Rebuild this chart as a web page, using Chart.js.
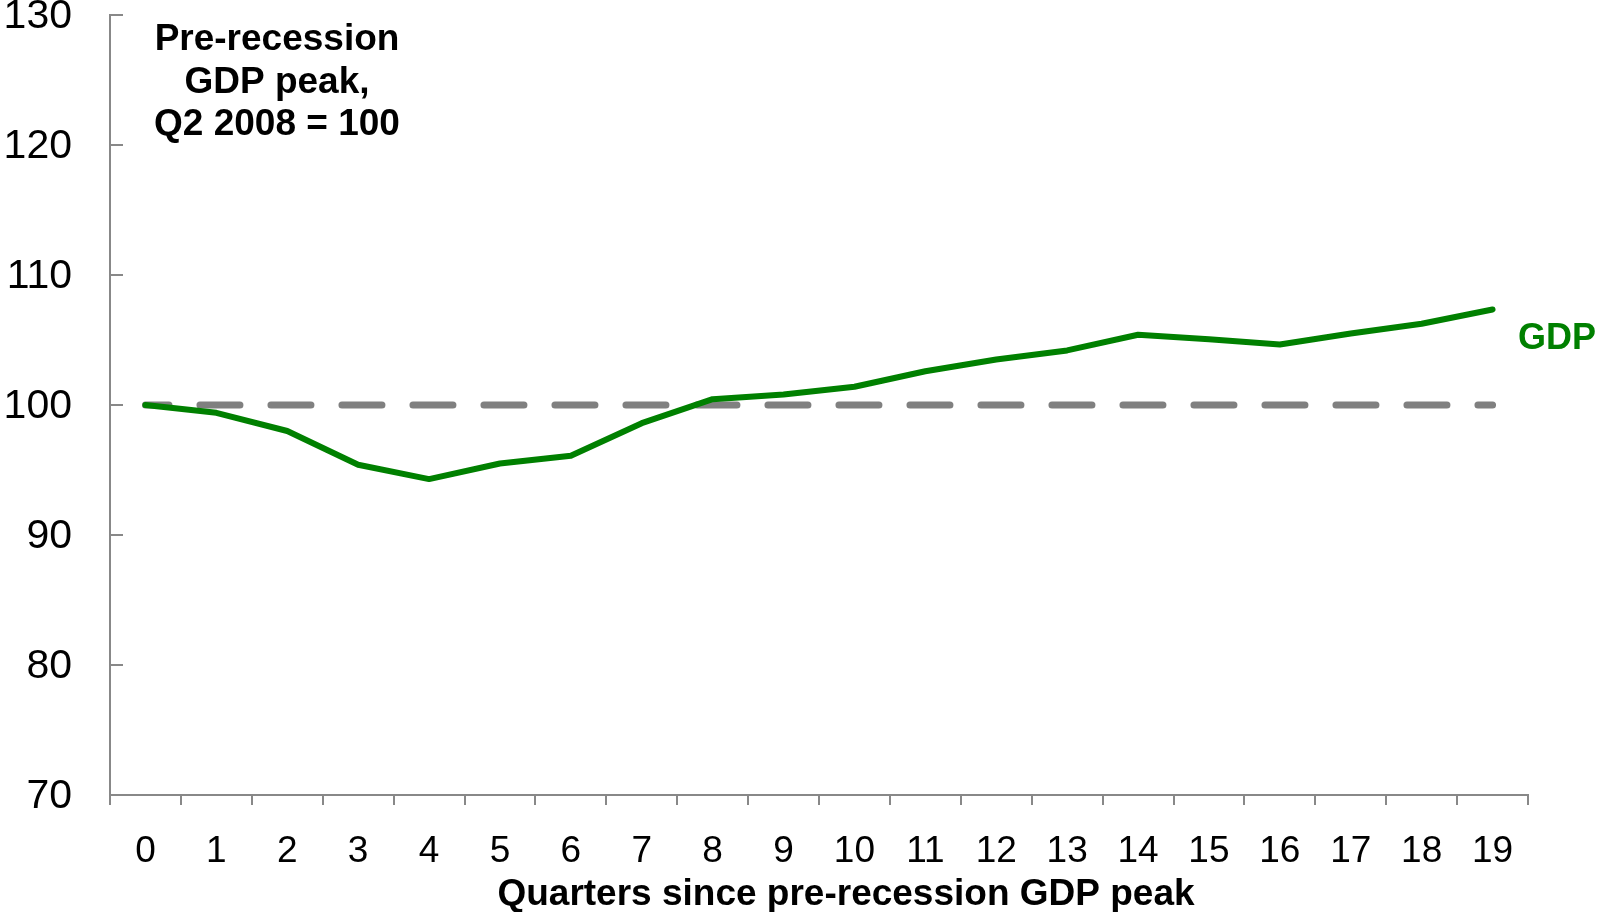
<!DOCTYPE html>
<html>
<head>
<meta charset="utf-8">
<script src="https://cdn.jsdelivr.net/npm/chart.js@4/dist/chart.umd.min.js"></script>
<style>
  html, body { margin: 0; padding: 0; background: #fff; }
  #wrap { width: 1598px; height: 912px; position: relative; }
</style>
</head>
<body>
<div id="wrap"><canvas id="c"></canvas></div>
<script>
const quarters = ['0','1','2','3','4','5','6','7','8','9','10','11','12','13','14','15','16','17','18','19'];
const gdp = [100, 99.4, 98.0, 95.4, 94.3, 95.5, 96.1, 98.6, 100.45, 100.8, 101.4, 102.6, 103.5, 104.2, 105.4, 105.05, 104.65, 105.5, 106.25, 107.35];
const baseline = [100,100,100,100,100,100,100,100,100,100,100,100,100,100,100,100,100,100,100,100];
const yTicks = { min: 70, max: 130, step: 10 };
const annotationLines = ['Pre-recession', 'GDP peak,', 'Q2 2008 = 100'];
const seriesLabel = 'GDP';
const xTitle = 'Quarters since pre-recession GDP peak';

const FONT = '"Liberation Sans", Arial, Helvetica, sans-serif';
const AXIS = '#888888';
const GREEN = '#008000';

const textPlugin = {
  id: 'texts',
  afterDraw(chart) {
    const ctx = chart.ctx;
    const area = chart.chartArea;
    const y = chart.scales.y;
    ctx.save();
    // inward y ticks
    ctx.strokeStyle = AXIS;
    ctx.lineWidth = 2;
    y.ticks.forEach(t => {
      if (t.value === yTicks.min) return;
      const py = Math.round(y.getPixelForValue(t.value));
      ctx.beginPath();
      ctx.moveTo(area.left, py);
      ctx.lineTo(area.left + 13, py);
      ctx.stroke();
    });
    // annotation
    ctx.fillStyle = '#000';
    ctx.font = 'bold 37px ' + FONT;
    ctx.textAlign = 'center';
    ctx.textBaseline = 'middle';
    annotationLines.forEach((l, i) => ctx.fillText(l, 277, 40 + i * 42.5));
    // series label
    ctx.fillStyle = GREEN;
    ctx.font = 'bold 36px ' + FONT;
    ctx.textAlign = 'left';
    ctx.fillText(seriesLabel, area.right - 10, 339);
    // x title
    ctx.fillStyle = '#000';
    ctx.font = 'bold 37px ' + FONT;
    ctx.textAlign = 'center';
    ctx.fillText(xTitle, 846, 895);
    ctx.restore();
  }
};

new Chart(document.getElementById('c'), {
  type: 'line',
  data: {
    labels: quarters,
    datasets: [
      {
        label: 'GDP',
        data: gdp,
        borderColor: GREEN,
        borderWidth: 6,
        borderCapStyle: 'round',
        borderJoinStyle: 'round',
        pointRadius: 0,
        tension: 0,
        fill: false
      },
      {
        label: 'Pre-recession peak',
        data: baseline,
        borderColor: '#808080',
        borderWidth: 7,
        borderDash: [40, 31],
        borderDashOffset: 16.5,
        borderCapStyle: 'round',
        pointRadius: 0,
        tension: 0,
        fill: false
      }
    ]
  },
  options: {
    responsive: true,
    maintainAspectRatio: false,
    animation: false,
    events: [],
    layout: { padding: { top: 15, right: 70, left: 0, bottom: 0 } },
    plugins: { legend: { display: false }, tooltip: { enabled: false } },
    scales: {
      x: {
        type: 'category',
        offset: true,
        grid: { offset: true, drawOnChartArea: false, drawTicks: true, tickLength: 10, color: AXIS, lineWidth: 2 },
        border: { display: true, color: AXIS, width: 2 },
        ticks: { color: '#000', font: { family: FONT, size: 37 }, padding: 25, maxRotation: 0, autoSkip: false },
        afterFit(s) { s.height = 117; s.paddingLeft = 0; s.paddingRight = 0; }
      },
      y: {
        min: yTicks.min,
        max: yTicks.max,
        grid: { display: false, drawTicks: false },
        border: { display: true, color: AXIS, width: 2 },
        ticks: { stepSize: yTicks.step, color: '#000', font: { family: FONT, size: 41 }, padding: 38, labelOffset: 2 },
        afterFit(s) { s.width = 110; s.paddingTop = 0; s.paddingBottom = 0; }
      }
    }
  },
  plugins: [textPlugin]
});
</script>
</body>
</html>
